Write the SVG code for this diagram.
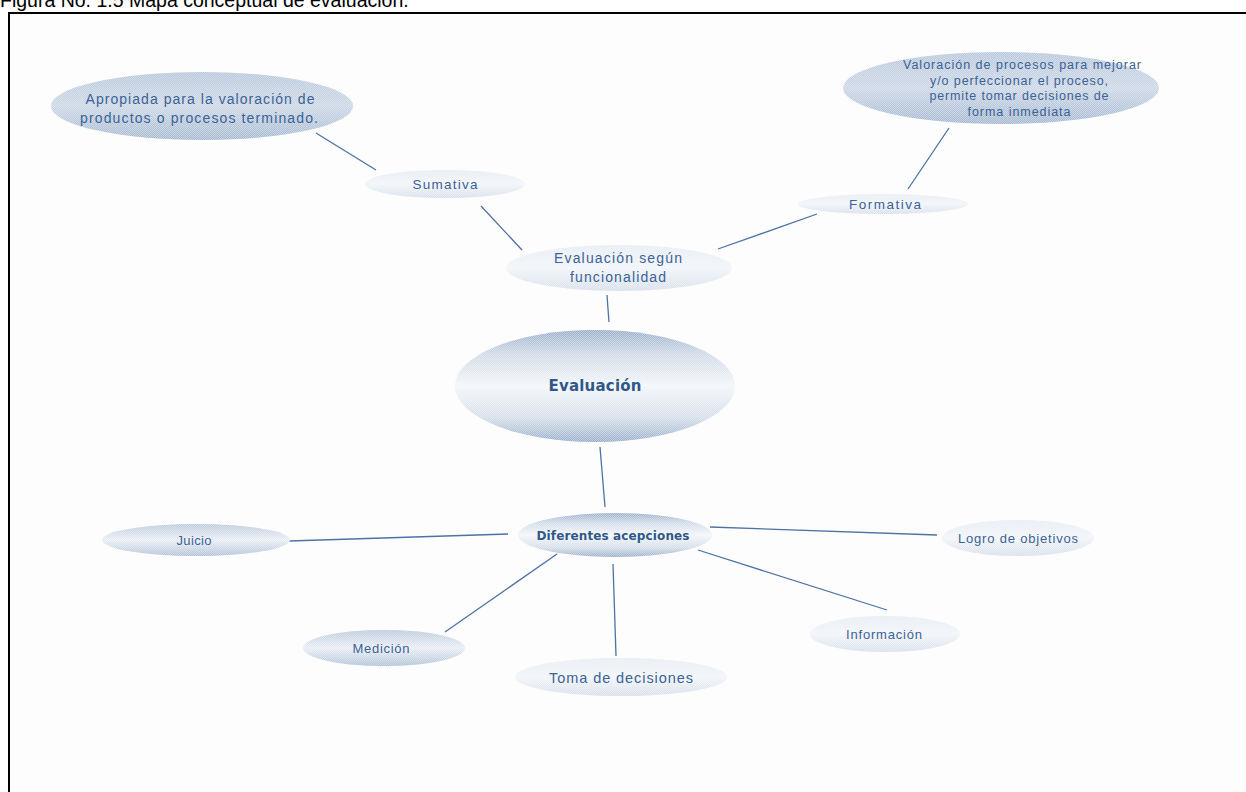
<svg xmlns="http://www.w3.org/2000/svg" width="1246" height="792" viewBox="0 0 1246 792">
  <defs>
    <!-- vertical shading: dark rim top and bottom, pale band in the middle -->
    <linearGradient id="gMain" x1="0" y1="0" x2="0" y2="1">
      <stop offset="0" stop-color="#97adc9"/>
      <stop offset="0.22" stop-color="#d0dae8"/>
      <stop offset="0.5" stop-color="#f2f5f9"/>
      <stop offset="0.78" stop-color="#d4deea"/>
      <stop offset="1" stop-color="#97adc9"/>
    </linearGradient>
    <linearGradient id="gMid" x1="0" y1="0" x2="0" y2="1">
      <stop offset="0" stop-color="#b9c8db"/>
      <stop offset="0.5" stop-color="#e9eef5"/>
      <stop offset="1" stop-color="#afc0d6"/>
    </linearGradient>
    <linearGradient id="gDense" x1="0" y1="0" x2="0" y2="1">
      <stop offset="0" stop-color="#b7c7db"/>
      <stop offset="0.5" stop-color="#cbd6e5"/>
      <stop offset="1" stop-color="#a4b8d0"/>
    </linearGradient>
    <linearGradient id="gSoft" x1="0" y1="0" x2="0" y2="1">
      <stop offset="0" stop-color="#e7ecf3"/>
      <stop offset="0.5" stop-color="#f1f4f8"/>
      <stop offset="1" stop-color="#d6dfea"/>
    </linearGradient>
    <!-- fine dither grain laid over the shaded ovals -->
    <pattern id="grain" width="2" height="2" patternUnits="userSpaceOnUse">
      <rect x="0" y="0" width="1" height="1" fill="#ffffff" opacity="0.35"/>
      <rect x="1" y="1" width="1" height="1" fill="#ffffff" opacity="0.35"/>
    </pattern>
    <style>
      .t { font-family: "Liberation Sans", Arial, sans-serif; fill: #3b6397; text-anchor: middle; }
      .b { font-family: "DejaVu Sans", Verdana, sans-serif; font-weight: bold; fill: #2f5889; text-anchor: middle; }
      .link { stroke: #4d72a3; stroke-width: 1.3; fill: none; }
      .grain { fill: url(#grain); }
    </style>
  </defs>

  <rect x="0" y="0" width="1246" height="792" fill="#ffffff"/>
  <!-- caption sits above the frame, its upper part running off the top edge -->
  <text x="0" y="7" font-family="Liberation Sans, Arial, sans-serif" font-size="19.5" fill="#000">Figura No. 1.5 Mapa conceptual de evaluación.</text>
  <rect x="9" y="13" width="1260" height="800" fill="#fdfdfd" stroke="#000" stroke-width="2"/>

  <g id="connectors">
    <line class="link" x1="316" y1="133" x2="376" y2="170"/>
    <line class="link" x1="481" y1="206" x2="522" y2="250"/>
    <line class="link" x1="718" y1="249" x2="817" y2="214"/>
    <line class="link" x1="908" y1="189" x2="949" y2="128"/>
    <polyline class="link" points="607,295 608,309 609,322"/>
    <line class="link" x1="600" y1="447" x2="605" y2="507"/>
    <line class="link" x1="289" y1="541" x2="508" y2="534"/>
    <line class="link" x1="710" y1="527" x2="937" y2="535"/>
    <line class="link" x1="557" y1="554" x2="445" y2="632"/>
    <line class="link" x1="613" y1="564" x2="616" y2="656"/>
    <line class="link" x1="698" y1="550" x2="887" y2="610"/>
  </g>

  <g id="n-apropiada">
    <ellipse cx="202" cy="106" rx="151" ry="34" fill="url(#gDense)"/>
    <ellipse cx="202" cy="106" rx="151" ry="34" class="grain"/>
    <text class="t" x="200" y="104" font-size="14" textLength="229">Apropiada para la valoración de</text>
    <text class="t" x="199" y="123" font-size="14" textLength="238">productos o procesos terminado.</text>
  </g>

  <g id="n-valoracion">
    <ellipse cx="1001" cy="88" rx="158" ry="36" fill="url(#gDense)"/>
    <ellipse cx="1001" cy="88" rx="158" ry="36" class="grain"/>
    <text class="t" x="1022" y="69" font-size="12.5" textLength="238">Valoración de procesos para mejorar</text>
    <text class="t" x="1019" y="85" font-size="12.5" textLength="178">y/o perfeccionar el proceso,</text>
    <text class="t" x="1019" y="100" font-size="12.5" textLength="179">permite tomar decisiones de</text>
    <text class="t" x="1019" y="116" font-size="12.5" textLength="103">forma inmediata</text>
  </g>

  <g id="n-sumativa">
    <ellipse cx="445" cy="184" rx="80" ry="14" fill="url(#gSoft)"/>
    <ellipse cx="445" cy="184" rx="80" ry="14" class="grain"/>
    <text class="t" x="445" y="189" font-size="13.5" textLength="65">Sumativa</text>
  </g>

  <g id="n-formativa">
    <ellipse cx="883" cy="204" rx="85" ry="10" fill="url(#gSoft)"/>
    <ellipse cx="883" cy="204" rx="85" ry="10" class="grain"/>
    <text class="t" x="885" y="209" font-size="13.5" textLength="72">Formativa</text>
  </g>

  <g id="n-funcionalidad">
    <ellipse cx="619" cy="268" rx="113" ry="23" fill="url(#gSoft)"/>
    <ellipse cx="619" cy="268" rx="113" ry="23" class="grain"/>
    <text class="t" x="618" y="263" font-size="14" textLength="128">Evaluación según</text>
    <text class="t" x="618" y="282" font-size="14" textLength="96">funcionalidad</text>
  </g>

  <g id="n-evaluacion">
    <ellipse cx="595" cy="386" rx="140" ry="56" fill="url(#gMain)"/>
    <ellipse cx="595" cy="386" rx="140" ry="56" class="grain"/>
    <text class="b" x="595" y="391" font-size="15" textLength="93">Evaluación</text>
  </g>

  <g id="n-acepciones">
    <ellipse cx="615" cy="535" rx="97" ry="22" fill="url(#gMain)"/>
    <ellipse cx="615" cy="535" rx="97" ry="22" class="grain"/>
    <text class="b" x="613" y="540" font-size="12" textLength="153">Diferentes acepciones</text>
  </g>

  <g id="n-juicio">
    <ellipse cx="196" cy="540" rx="94" ry="16" fill="url(#gMid)"/>
    <ellipse cx="196" cy="540" rx="94" ry="16" class="grain"/>
    <text class="t" x="194" y="545" font-size="13" textLength="35">Juicio</text>
  </g>

  <g id="n-logro">
    <ellipse cx="1018" cy="538" rx="76" ry="18" fill="url(#gSoft)"/>
    <ellipse cx="1018" cy="538" rx="76" ry="18" class="grain"/>
    <text class="t" x="1018" y="543" font-size="13" textLength="120">Logro de objetivos</text>
  </g>

  <g id="n-medicion">
    <ellipse cx="384" cy="648" rx="81" ry="18" fill="url(#gMid)"/>
    <ellipse cx="384" cy="648" rx="81" ry="18" class="grain"/>
    <text class="t" x="381" y="653" font-size="13" textLength="57">Medición</text>
  </g>

  <g id="n-toma">
    <ellipse cx="621" cy="677" rx="106" ry="19" fill="url(#gSoft)"/>
    <ellipse cx="621" cy="677" rx="106" ry="19" class="grain"/>
    <text class="t" x="621" y="683" font-size="14.5" textLength="144">Toma de decisiones</text>
  </g>

  <g id="n-informacion">
    <ellipse cx="885" cy="634" rx="75" ry="18" fill="url(#gSoft)"/>
    <ellipse cx="885" cy="634" rx="75" ry="18" class="grain"/>
    <text class="t" x="884" y="639" font-size="13" textLength="76">Información</text>
  </g>
</svg>
